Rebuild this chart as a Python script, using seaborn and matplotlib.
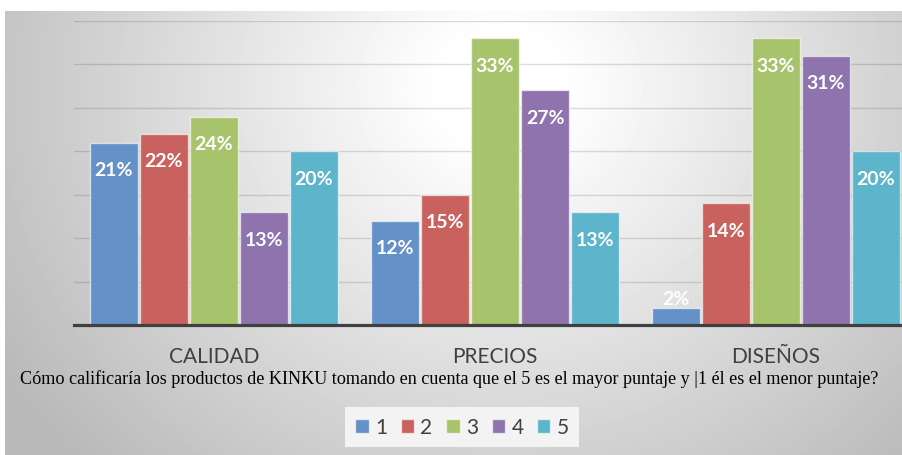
import matplotlib
matplotlib.use('Agg')
import matplotlib.pyplot as plt
import seaborn as sns
import pandas as pd
import numpy as np
from matplotlib.patches import Patch

categories = ['CALIDAD', 'PRECIOS', 'DISEÑOS']
ratings = ['1', '2', '3', '4', '5']
calidad = [21, 22, 24, 13, 20]
precios = [12, 15, 33, 27, 13]
disenos = [2, 14, 33, 31, 20]
question = ('Cómo calificaría los productos de KINKU tomando en cuenta que el 5 '
            'es el mayor puntaje y |1 él es el menor puntaje?')
colors = ['#6591C9', '#C9615E', '#A7C46C', '#8E73AD', '#5DB5CC']

rows = []
for cat, vals in zip(categories, [calidad, precios, disenos]):
    for r, v in zip(ratings, vals):
        rows.append({'Aspecto': cat, 'Puntaje': r, 'Porcentaje': v})
df = pd.DataFrame(rows)

sns.set_theme(style='white')
plt.rcParams['font.family'] = ['Lato', 'DejaVu Sans']

W, H = 903, 456
fig = plt.figure(figsize=(W / 100, H / 100), dpi=100, facecolor='white')

# grey panel with soft radial gradient
bg = fig.add_axes([5 / W, 0, 1 - 5 / W, (H - 12) / H])
yy, xx = np.mgrid[12:H, 5:W]
d = np.hypot(xx - 500, (yy - 90) * 1.1)
shade = 1 - 0.23 * np.clip((d - 60) / 440, 0, 1.2)
bg.imshow(shade, cmap='gray', vmin=0, vmax=1, aspect='auto', extent=(0, 1, 0, 1))
bg.axis('off')

ax = fig.add_axes([73.5 / W, 1 - 326 / H, 843 / W, 304 / H])
ax.set_facecolor('none')
sns.barplot(data=df, x='Aspecto', y='Porcentaje', hue='Puntaje', palette=colors,
            width=0.89, gap=0.04, saturation=1, legend=False, ax=ax,
            edgecolor=(1, 1, 1, 0.6), linewidth=1)
ax.set_xlim(-0.5, 2.5)
ax.set_ylim(0, 35)
ax.set_yticks(range(0, 36, 5))
ax.grid(axis='y', color='k', alpha=0.15, lw=1)
ax.set_axisbelow(True)
ax.tick_params(axis='y', left=False, labelleft=False)
ax.tick_params(axis='x', bottom=False, pad=9, labelsize=15, labelcolor='#404040')
for s in ['top', 'right', 'left']:
    ax.spines[s].set_visible(False)
ax.spines['bottom'].set_color('#404040')
ax.spines['bottom'].set_linewidth(2.3)
ax.set_xlabel('')
ax.set_ylabel('')

for p in ax.patches:
    h = p.get_height()
    if h <= 0:
        continue
    xc = p.get_x() + p.get_width() / 2
    off = -19.5 if h >= 5 else 6.5
    ax.annotate(f'{h:.0f}%', (xc, h), xytext=(0, off), textcoords='offset points',
                ha='center', va='center', color='white', fontsize=14,
                fontweight='bold')

fig.text(20 / W, 1 - 379 / H, question, family='Liberation Serif', fontsize=13.1,
         va='center', ha='left', color='black')

handles = [Patch(facecolor=c, edgecolor=(1, 1, 1, 0.6)) for c in colors]
fig.legend(handles, ratings, loc='center', bbox_to_anchor=(462 / W, 1 - 428 / H),
           ncol=5, frameon=True, facecolor='#f3f3f3', edgecolor='none',
           fancybox=False, framealpha=1, handlelength=0.65, handleheight=0.65,
           handletextpad=0.3, columnspacing=0.65, fontsize=15, labelcolor='#404040',
           borderpad=0.5, borderaxespad=0)

fig.savefig('out.png', dpi=100)
